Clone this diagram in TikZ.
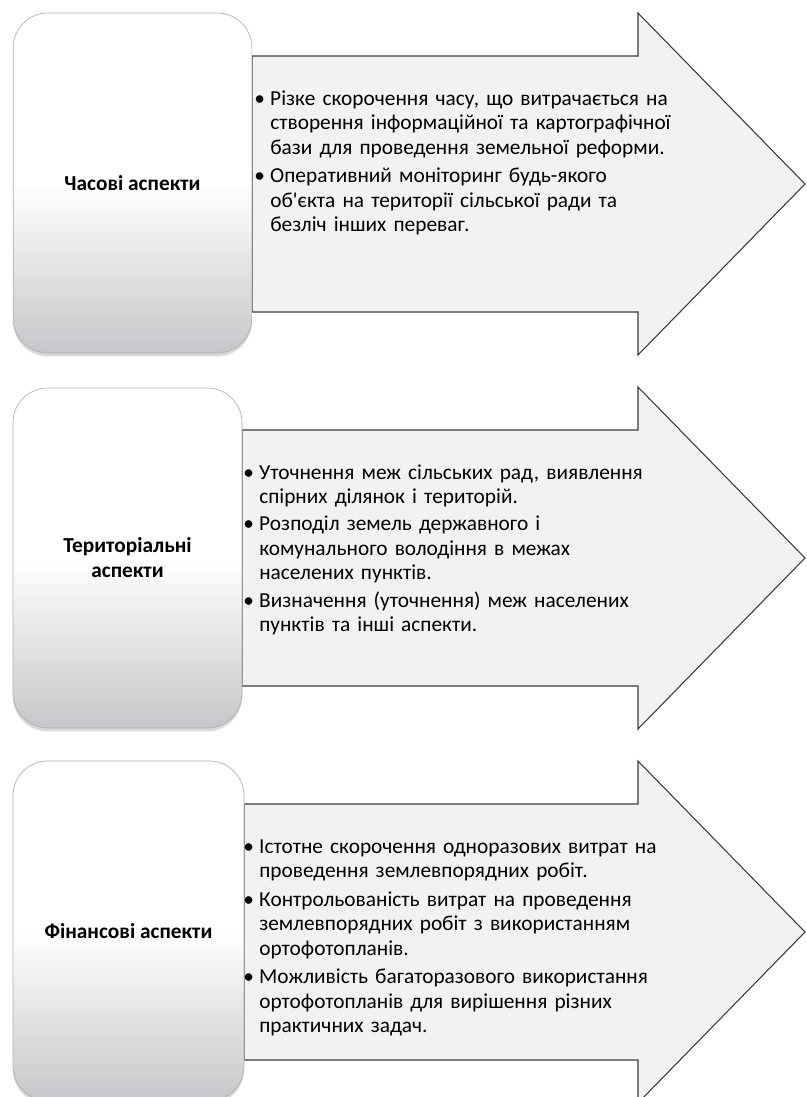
\documentclass[tikz,border=0pt]{standalone}
\usepackage{fontspec}
\setmainfont{Carlito}
\usetikzlibrary{shadows, positioning}
\definecolor{boxgray}{RGB}{198,199,202}
\definecolor{boxline}{RGB}{175,175,178}
\definecolor{arrowfill}{RGB}{242,242,242}
\definecolor{arrowline}{RGB}{60,60,60}
\newcommand{\bitem}[1]{\hangindent=12pt\hangafter=1\noindent\makebox[12pt][l]{\textbullet}#1\par}

\tikzset{
  aspectbox/.style={rounded corners=26pt, draw=boxline, line width=0.5pt,
    top color=white, bottom color=boxgray, middle color=white,
    drop shadow={shadow xshift=0pt, shadow yshift=-2.5pt, opacity=0.3},
    font=\bfseries\fontsize{16}{18.8}\selectfont, align=center, inner sep=0pt},
  bodyarrow/.style={fill=arrowfill, draw=arrowline, line width=0.8pt, line join=miter},
  listtext/.style={anchor=base west, inner sep=0pt, text width=345pt, align=left,
    font=\fontsize{16}{18.4}\selectfont}
}

\begin{document}
\begin{tikzpicture}[x=0.75pt, y=-0.75pt]
  \useasboundingbox (0,0) rectangle (807,1097);
  \clip (0,0) rectangle (807,1097);
  % Row 1: time
  \draw[bodyarrow] (252,56) -- (638,56) -- (638,13) -- (805,184) -- (638,355) -- (638,312) -- (252,312) -- cycle;
  \node[aspectbox, minimum width=179pt, minimum height=255pt] (timebox) at (132.5,183) {Часові аспекти};
  \node[listtext] (timelist) at (254,105) {%
    \bitem{Різке скорочення часу, що витрачається на\newline створення інформаційної та картографічної\newline бази для проведення земельної реформи.}%
    \vspace{3pt}%
    \bitem{Оперативний моніторинг будь-якого\newline об\textquotesingle єкта на території сільської ради та\newline безліч інших переваг.}};
  % Row 2: territory
  \draw[bodyarrow] (242,430) -- (638,430) -- (638,387) -- (805,558) -- (638,729) -- (638,686) -- (242,686) -- cycle;
  \node[aspectbox, minimum width=171.75pt, minimum height=255pt] (terrbox) at (127.5,558) {Територіальні\\аспекти};
  \node[listtext] (terrlist) at (243,479) {%
    \bitem{Уточнення меж сільських рад, виявлення\newline спірних ділянок і територій.}%
    \vspace{2pt}%
    \bitem{Розподіл земель державного і\newline комунального володіння в межах\newline населених пунктів.}%
    \vspace{2pt}%
    \bitem{Визначення (уточнення) меж населених\newline пунктів та інші аспекти.}};
  % Row 3: finance
  \draw[bodyarrow] (244,804) -- (638,804) -- (638,761) -- (805,932) -- (638,1103) -- (638,1060) -- (244,1060) -- cycle;
  \node[aspectbox, minimum width=173.25pt, minimum height=255pt] (finbox) at (128.5,931) {Фінансові аспекти};
  \node[listtext] (finlist) at (243,853) {%
    \bitem{Істотне скорочення одноразових витрат на\newline проведення землевпорядних робіт.}%
    \vspace{3pt}%
    \bitem{Контрольованість витрат на проведення\newline землевпорядних робіт з використанням\newline ортофотопланів.}%
    \vspace{3pt}%
    \bitem{Можливість багаторазового використання\newline ортофотопланів для вирішення різних\newline практичних задач.}};
\end{tikzpicture}
\end{document}
